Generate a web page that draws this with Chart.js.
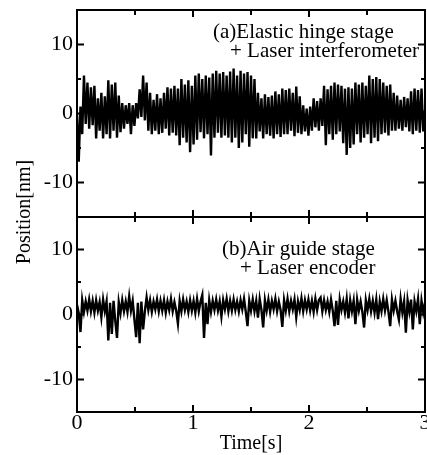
<!DOCTYPE html>
<html>
<head>
<meta charset="utf-8">
<script src="https://cdn.jsdelivr.net/npm/chart.js@4.4.1/dist/chart.umd.min.js"></script>
<style>
html, body { margin: 0; padding: 0; background: #fff; }
canvas { display: block; }
</style>
</head>
<body>
<canvas id="posicao" width="427" height="455"></canvas>
<script>
var serif = '"Liberation Serif", "Times New Roman", serif';

// sample spacing of the position records [s]
var sampleStep = 0.015;

// (a) elastic hinge stage + laser interferometer [nm]
var posA = [
  0, -7, 1, -3, 5.5, -1.5, 4.5, -2.2, 3.8, -1.7,
  4, -3.6, 2.2, -2.5, 3, -3.6, 2.5, -3, 4.8, -3.6,
  4.2, -2.5, 4.5, -3.5, 2.6, -2.7, 1.5, -2.2, 1.2, -1.5,
  1.5, -3.0, 1.2, -1.8, 1.5, -0.7, 3.5, -0.5, 5.5, -1.0,
  4.5, -2.5, 3, -3, 2, -2.5, 2.8, -3, 2.2, -2.8,
  3, -2.2, 3.8, -3.2, 3.6, -2.8, 4, -3.2, 3.6, -4.6,
  5, -3.5, 4.2, -4.2, 4.8, -5.6, 4, -4.5, 5.5, -3.8,
  5.8, -2.7, 5, -3.6, 5.5, -3, 5.2, -6.1, 5.8, -3.5,
  6.2, -2.8, 5.8, -3.5, 6, -3.2, 5.5, -3.5, 6.1, -4.2,
  6.5, -3.5, 5.5, -5, 6.2, -4.2, 5.8, -3, 6, -4.8,
  5.5, -3.6, 5, -3.6, 3, -2.6, 2.2, -3.6, 2.8, -3,
  2.4, -3.2, 2.6, -3.6, 3.2, -3, 2.8, -3.4, 3.6, -3,
  3.4, -3, 3.6, -2.5, 3, -3.3, 3.9, -2.8, 2.5, -3,
  1.2, -2.6, 0.7, -3.2, 1, -2.5, 2.2, -2, 1.8, -2.5,
  2.2, -1.8, 4, -4.6, 3.5, -3, 4, -3.8, 4.5, -3,
  4.2, -2.6, 4, -4.3, 3.6, -6, 3.8, -5, 3.6, -4.5,
  4.5, -3, 4.2, -4.2, 4.5, -3.5, 4, -3, 5.5, -4.3,
  5, -3.5, 5.3, -4, 5, -3, 4.5, -2.8, 4, -3.2,
  4.2, -2.5, 3, -2.5, 2.6, -2.2, 2, -2.5, 2.4, -2,
  2.2, -2.6, 3.2, -3, 3.6, -2.5, 3.4, -2.8, 3.6, -2.6,
  0.5
];

// (b) air guide stage + laser encoder [nm]
var posB = [
  1.5, 0.2, -2.7, 2.2, 0.4, 2.0, 0.6, 2.3, 0.5, 2.1,
  0.3, 2.2, 0.6, 1.9, -0.4, 2.3, 0.5, 2.0, -4.0, 1.8,
  -3.0, 2.1, -1.0, -3.6, 1.9, 0.2, 2.2, 0.5, 2.0, 0.4,
  2.8, 0.6, 2.1, -0.8, -3.5, 1.8, -4.4, 2.0, -2.3, 0.5,
  2.6, 0.7, 2.2, 0.4, 2.0, 0.8, 2.3, 0.5, 2.1, 0.6,
  2.2, 0.3, 2.0, 0.7, 2.4, 0.5, 1.9, 0.6, -1.4, 2.1,
  0.5, 2.3, 0.7, 2.0, 0.4, 2.2, 0.6, 2.1, 0.3, 2.4,
  0.5, 2.0, 3.0, -3.6, 1.8, -1.5, 2.2, 0.4, 2.1, 0.7,
  2.3, 0.6, 2.0, -0.3, 2.2, 0.8, 2.4, 0.5, 2.1, 0.6,
  2.3, 0.7, 2.0, 0.5, 2.2, 0.8, 2.4, 0.4, -1.8, 2.1,
  0.6, 2.3, 0.5, 2.1, -0.5, 2.4, 0.7, -2.0, 2.2, 0.6,
  2.3, 0.4, 2.1, 0.8, 2.4, 0.5, 2.0, 0.7, -1.9, 2.2,
  0.6, 2.4, 0.5, 2.1, 0.8, 2.3, -0.4, 2.0, 0.7, 2.5,
  0.5, 2.2, 0.8, 2.3, 0.6, 2.1, 0.4, 2.4, 0.7, 2.2,
  2.6, 0.5, 2.2, 0.7, 2.0, 0.4, 2.3, 0.6, -1.8, 2.1,
  -1.6, 2.3, 0.7, 2.0, 0.3, 2.4, -0.6, 2.2, 0.5, 2.1,
  -1.5, 2.3, 0.6, 2.0, 0.4, -2.0, 2.2, 0.7, 2.4, 0.5,
  2.1, 0.3, 2.3, -0.7, 2.0, 0.5, 2.4, 0.6, 2.2, 0.4,
  -1.8, 2.3, 0.6, 2.1, 0.5, -0.8, 2.4, 0.3, 2.0, -2.8,
  2.2, 0.4, 2.3, -2.3, 2.0, 0.5, 2.4, -1.5, 2.1, 0.3,
  1.8
];

var yTickValues = [-10, 0, 10];
var xTickValues = [0, 1, 2, 3];
var yMarks = [-10, -5, 0, 5, 10];
var xMarks = [0.5, 1, 1.5, 2, 2.5];
var labelA = ['(a)Elastic hinge stage', '+ Laser interferometer'];
var labelB = ['(b)Air guide stage', '+ Laser encoder'];
var yTitle = 'Position[nm]';
var xTitle = 'Time[s]';

function toPoints(values) {
  return values.map(function (v, i) { return { x: i * sampleStep, y: v }; });
}

function yScale(weight, stackWeight) {
  return {
    type: 'linear',
    position: 'left',
    stack: 'pos',
    stackWeight: stackWeight,
    weight: weight,
    min: -15,
    max: 15,
    grid: { display: false, drawTicks: false },
    border: { display: false },
    ticks: {
      padding: 4,
      color: '#000',
      font: { family: serif, size: 22, lineHeight: 1 }
    },
    afterBuildTicks: function (s) {
      s.ticks = yTickValues.map(function (v) { return { value: v }; });
    },
    afterFit: function (s) { s.width = 77; s.paddingTop = 0; s.paddingBottom = 0; }
  };
}

// frame, inward ticks and the texts
var moldura = {
  id: 'moldura',
  afterDraw: function (chart) {
    var ctx = chart.ctx, area = chart.chartArea, sx = chart.scales.x;
    ctx.save();
    ctx.strokeStyle = '#000';
    ctx.lineWidth = 2;
    ['yA', 'yB'].forEach(function (id) {
      var sy = chart.scales[id];
      ctx.strokeRect(area.left, sy.top, area.right - area.left, sy.bottom - sy.top);
      ctx.beginPath();
      yMarks.forEach(function (v) {
        var len = v % 10 === 0 ? 7 : 4;
        var py = sy.getPixelForValue(v);
        ctx.moveTo(area.left, py); ctx.lineTo(area.left + len, py);
        ctx.moveTo(area.right, py); ctx.lineTo(area.right - len, py);
      });
      xMarks.forEach(function (v) {
        var len = v % 1 === 0 ? 7 : 5;
        var px = sx.getPixelForValue(v);
        ctx.moveTo(px, sy.top); ctx.lineTo(px, sy.top + len);
        ctx.moveTo(px, sy.bottom); ctx.lineTo(px, sy.bottom - len);
      });
      ctx.stroke();
    });

    ctx.fillStyle = '#000';
    ctx.font = '21px ' + serif;
    ctx.textBaseline = 'alphabetic';
    ctx.textAlign = 'left';
    ctx.fillText(labelA[0], 213, 38);
    ctx.fillText(labelA[1], 230, 57);
    ctx.fillText(labelB[0], 222, 255);
    ctx.fillText(labelB[1], 240, 274);

    ctx.font = '20px ' + serif;
    ctx.translate(30, 212);
    ctx.rotate(-Math.PI / 2);
    ctx.textAlign = 'center';
    ctx.fillText(yTitle, 0, 0);
    ctx.restore();
  }
};

var ctx = document.getElementById('posicao');

new Chart(ctx, {
  type: 'line',
  data: {
    datasets: [{
      label: 'a',
      data: toPoints(posA),
      yAxisID: 'yA',
      borderColor: '#000',
      borderWidth: 2.4,
      pointRadius: 0,
      tension: 0
    }, {
      label: 'b',
      data: toPoints(posB),
      yAxisID: 'yB',
      borderColor: '#000',
      borderWidth: 2.4,
      pointRadius: 0,
      tension: 0
    }]
  },
  options: {
    responsive: false,
    animation: false,
    layout: { padding: { top: 10, right: 2, left: 0, bottom: 0 } },
    plugins: { legend: { display: false }, tooltip: { enabled: false } },
    scales: {
      x: {
        type: 'linear',
        min: 0,
        max: 3,
        grid: { display: false, drawTicks: false },
        border: { display: false },
        ticks: {
          padding: 0,
          maxRotation: 0,
          color: '#000',
          font: { family: serif, size: 22, lineHeight: 1 }
        },
        afterBuildTicks: function (s) {
          s.ticks = xTickValues.map(function (v) { return { value: v }; });
        },
        title: {
          display: true,
          text: xTitle,
          color: '#000',
          font: { family: serif, size: 20, lineHeight: 1 },
          padding: { top: 0, bottom: 1 }
        },
        afterFit: function (s) { s.height = 43; s.paddingLeft = 0; s.paddingRight = 0; }
      },
      yA: yScale(2, 207),
      yB: yScale(1, 195)
    }
  },
  plugins: [moldura]
});
</script>
</body>
</html>
